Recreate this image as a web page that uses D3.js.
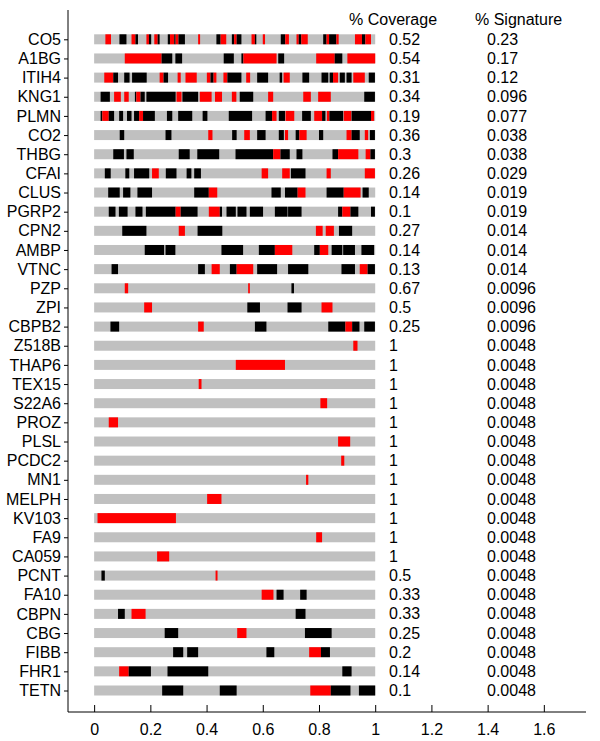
<!DOCTYPE html>
<html>
  <head>
    <meta charset="utf-8">
    <script src="https://d3js.org/d3.v7.min.js"></script>
    <style>
      body { margin: 0; background: #fff; }
      text { font-family: Arial, "Liberation Sans", sans-serif; font-size: 16px; fill: #000; }
    </style>
  </head>
  <body>
    <script>
      const width = 600;
      const height = 741;

      const proteins = ['CO5', 'A1BG', 'ITIH4', 'KNG1', 'PLMN', 'CO2', 'THBG', 'CFAI', 'CLUS', 'PGRP2',
        'CPN2', 'AMBP', 'VTNC', 'PZP', 'ZPI', 'CBPB2', 'Z518B', 'THAP6', 'TEX15', 'S22A6', 'PROZ',
        'PLSL', 'PCDC2', 'MN1', 'MELPH', 'KV103', 'FA9', 'CA059', 'PCNT', 'FA10', 'CBPN', 'CBG',
        'FIBB', 'FHR1', 'TETN'];

      const coverage = ['0.52', '0.54', '0.31', '0.34', '0.19', '0.36', '0.3', '0.26', '0.14', '0.1',
        '0.27', '0.14', '0.13', '0.67', '0.5', '0.25', '1', '1', '1', '1', '1', '1', '1', '1', '1', '1',
        '1', '1', '0.5', '0.33', '0.33', '0.25', '0.2', '0.14', '0.1'];

      const signature = ['0.23', '0.17', '0.12', '0.096', '0.077', '0.038', '0.038', '0.029', '0.019',
        '0.019', '0.014', '0.014', '0.014', '0.0096', '0.0096', '0.0096', '0.0048', '0.0048', '0.0048',
        '0.0048', '0.0048', '0.0048', '0.0048', '0.0048', '0.0048', '0.0048', '0.0048', '0.0048',
        '0.0048', '0.0048', '0.0048', '0.0048', '0.0048', '0.0048', '0.0048'];

      // peptide segments per protein: [start, end, kind]  k = black, r = red
      const segments = [
        [[0.04,0.06,'r'],[0.09,0.115,'k'],[0.133,0.147,'r'],[0.147,0.156,'k'],[0.186,0.195,'r'],[0.195,0.203,'k'],
         [0.214,0.226,'r'],[0.226,0.233,'k'],[0.262,0.27,'k'],[0.27,0.285,'r'],[0.285,0.29,'k'],[0.29,0.3,'r'],
         [0.3,0.323,'k'],[0.37,0.377,'r'],[0.435,0.45,'k'],[0.45,0.47,'r'],[0.49,0.498,'k'],[0.498,0.507,'r'],
         [0.507,0.524,'k'],[0.56,0.572,'r'],[0.572,0.577,'k'],[0.6,0.608,'r'],[0.664,0.68,'k'],[0.68,0.693,'r'],
         [0.72,0.728,'r'],[0.728,0.737,'k'],[0.737,0.76,'r'],[0.815,0.827,'k'],[0.827,0.836,'r'],[0.836,0.862,'k'],
         [0.862,0.87,'r'],[0.928,0.953,'r'],[0.953,0.965,'k'],[0.965,0.985,'r']],
        [[0.109,0.24,'r'],[0.24,0.278,'k'],[0.289,0.313,'k'],[0.461,0.497,'k'],[0.524,0.531,'k'],[0.531,0.649,'r'],
         [0.655,0.676,'k'],[0.79,0.856,'r'],[0.856,0.883,'k'],[0.901,1.0,'r']],
        [[0.036,0.068,'r'],[0.068,0.085,'k'],[0.107,0.126,'k'],[0.135,0.187,'k'],[0.233,0.247,'r'],[0.247,0.263,'k'],
         [0.297,0.308,'r'],[0.325,0.365,'r'],[0.401,0.414,'r'],[0.414,0.425,'k'],[0.425,0.435,'r'],[0.46,0.474,'r'],
         [0.474,0.524,'k'],[0.541,0.555,'r'],[0.58,0.619,'k'],[0.66,0.669,'k'],[0.674,0.696,'r'],[0.741,0.765,'k'],
         [0.809,0.833,'k'],[0.838,0.85,'k'],[0.85,0.868,'r'],[0.874,0.892,'k'],[0.898,0.916,'k'],[0.922,0.963,'r'],
         [0.977,0.999,'k']],
        [[0.023,0.056,'k'],[0.071,0.095,'r'],[0.107,0.123,'r'],[0.145,0.15,'k'],[0.15,0.165,'r'],[0.165,0.18,'k'],
         [0.186,0.29,'k'],[0.293,0.311,'r'],[0.314,0.37,'k'],[0.376,0.418,'r'],[0.43,0.455,'r'],[0.49,0.506,'r'],
         [0.518,0.566,'k'],[0.619,0.637,'r'],[0.744,0.771,'r'],[0.797,0.842,'r'],[0.961,0.999,'k']],
        [[0.023,0.029,'k'],[0.029,0.052,'r'],[0.052,0.071,'k'],[0.089,0.103,'k'],[0.117,0.133,'k'],[0.142,0.16,'k'],
         [0.16,0.174,'r'],[0.174,0.216,'k'],[0.259,0.278,'k'],[0.299,0.349,'k'],[0.386,0.403,'k'],[0.479,0.562,'k'],
         [0.61,0.633,'k'],[0.633,0.649,'r'],[0.657,0.679,'k'],[0.681,0.712,'r'],[0.74,0.771,'k'],[0.783,0.811,'r'],
         [0.811,0.823,'k'],[0.828,0.837,'r'],[0.837,0.886,'k'],[0.888,0.915,'r'],[0.916,0.985,'k'],[0.985,0.996,'r']],
        [[0.091,0.107,'k'],[0.254,0.275,'k'],[0.406,0.421,'r'],[0.491,0.507,'k'],[0.534,0.554,'r'],[0.58,0.61,'k'],
         [0.657,0.675,'k'],[0.679,0.69,'r'],[0.717,0.73,'k'],[0.73,0.756,'r'],[0.8,0.815,'k'],[0.898,0.916,'r'],
         [0.916,0.945,'k'],[0.963,0.975,'r'],[0.981,0.999,'k']],
        [[0.068,0.106,'k'],[0.115,0.141,'k'],[0.301,0.34,'k'],[0.367,0.445,'k'],[0.503,0.637,'k'],[0.637,0.663,'r'],
         [0.663,0.696,'k'],[0.72,0.741,'k'],[0.848,0.868,'k'],[0.868,0.94,'r'],[0.966,0.983,'r'],[0.983,0.999,'k']],
        [[0.038,0.059,'k'],[0.111,0.125,'k'],[0.142,0.196,'k'],[0.206,0.23,'r'],[0.255,0.293,'k'],[0.329,0.346,'k'],
         [0.356,0.38,'k'],[0.596,0.619,'r'],[0.669,0.696,'r'],[0.7,0.752,'k'],[0.827,0.842,'r'],[0.963,0.999,'r']],
        [[0.05,0.091,'k'],[0.103,0.129,'k'],[0.154,0.206,'k'],[0.356,0.408,'k'],[0.408,0.438,'r'],[0.631,0.664,'k'],
         [0.679,0.724,'k'],[0.724,0.752,'r'],[0.827,0.888,'k'],[0.888,0.948,'r'],[0.955,0.977,'k']],
        [[0.052,0.076,'k'],[0.088,0.119,'k'],[0.147,0.172,'k'],[0.184,0.29,'k'],[0.29,0.308,'r'],[0.308,0.368,'k'],
         [0.408,0.447,'r'],[0.447,0.455,'k'],[0.471,0.504,'k'],[0.51,0.542,'k'],[0.554,0.601,'k'],[0.643,0.688,'k'],
         [0.69,0.738,'k'],[0.868,0.883,'k'],[0.883,0.912,'r'],[0.912,0.94,'k'],[0.985,0.999,'k']],
        [[0.1,0.186,'k'],[0.301,0.323,'r'],[0.368,0.456,'k'],[0.789,0.813,'r'],[0.824,0.853,'r'],[0.871,0.918,'k']],
        [[0.18,0.249,'k'],[0.254,0.289,'k'],[0.453,0.53,'k'],[0.586,0.643,'k'],[0.643,0.705,'r'],[0.783,0.803,'k'],
         [0.803,0.833,'r'],[0.845,0.883,'k'],[0.886,0.928,'k'],[0.951,0.996,'k']],
        [[0.062,0.085,'k'],[0.37,0.394,'k'],[0.418,0.447,'r'],[0.483,0.507,'k'],[0.507,0.566,'r'],[0.58,0.651,'k'],
         [0.69,0.762,'k'],[0.88,0.928,'k'],[0.945,0.973,'r'],[0.973,0.999,'k']],
        [[0.109,0.121,'r'],[0.548,0.554,'r'],[0.702,0.711,'k']],
        [[0.178,0.206,'r'],[0.545,0.59,'k'],[0.688,0.738,'k'],[0.809,0.848,'r']],
        [[0.058,0.089,'k'],[0.37,0.39,'r'],[0.572,0.613,'k'],[0.833,0.894,'k'],[0.894,0.918,'r'],[0.918,0.944,'k'],
         [0.961,0.999,'k']],
        [[0.922,0.937,'r']],
        [[0.504,0.679,'r']],
        [[0.372,0.382,'r']],
        [[0.805,0.829,'r']],
        [[0.052,0.085,'r']],
        [[0.868,0.911,'r']],
        [[0.879,0.89,'r']],
        [[0.754,0.762,'r']],
        [[0.402,0.453,'r']],
        [[0.012,0.291,'r']],
        [[0.79,0.811,'r']],
        [[0.224,0.267,'r']],
        [[0.026,0.038,'k'],[0.432,0.439,'r']],
        [[0.596,0.638,'r'],[0.649,0.674,'k'],[0.733,0.756,'k']],
        [[0.085,0.109,'k'],[0.133,0.183,'r'],[0.717,0.752,'k']],
        [[0.251,0.299,'k'],[0.509,0.542,'r'],[0.75,0.845,'k']],
        [[0.281,0.317,'k'],[0.331,0.37,'k'],[0.613,0.641,'k'],[0.765,0.807,'r'],[0.807,0.839,'k']],
        [[0.089,0.123,'r'],[0.123,0.202,'k'],[0.261,0.406,'k'],[0.883,0.916,'k']],
        [[0.242,0.317,'k'],[0.447,0.507,'k'],[0.769,0.842,'r'],[0.842,0.912,'k'],[0.942,1.0,'k']]
      ];

      const xTicks = [0, 0.2, 0.4, 0.6, 0.8, 1, 1.2, 1.4, 1.6];
      const colors = {k: '#000000', r: '#ff0000'};

      const x = d3.scaleLinear().domain([-0.093, 1.75]).range([68, 586]);
      const y = d3.scalePoint().domain(proteins).range([39.3, 690.5]);
      const barH = 10;
      const axisTop = 10, axisBottom = 712;

      const svg = d3.select('body').append('svg')
        .attr('width', width)
        .attr('height', height);

      const rows = svg.selectAll('g.row').data(proteins)
        .enter().append('g')
        .attr('class', 'row')
        .attr('transform', d => `translate(0,${y(d)})`);

      rows.append('rect')
        .attr('x', x(0))
        .attr('y', -barH / 2)
        .attr('width', x(1) - x(0))
        .attr('height', barH)
        .attr('fill', '#c0c0c0');

      rows.selectAll('rect.seg').data((d, i) => segments[i])
        .enter().append('rect')
        .attr('class', 'seg')
        .attr('x', s => x(s[0]))
        .attr('y', -barH / 2)
        .attr('width', s => x(s[1]) - x(s[0]))
        .attr('height', barH)
        .attr('fill', s => colors[s[2]]);

      rows.append('text')
        .attr('x', 389)
        .attr('dy', '0.35em')
        .text((d, i) => coverage[i]);

      rows.append('text')
        .attr('x', 487)
        .attr('dy', '0.35em')
        .text((d, i) => signature[i]);

      svg.append('text').attr('x', 349).attr('y', 25).text('% Coverage');
      svg.append('text').attr('x', 475).attr('y', 25).text('% Signature');

      // y axis
      const yAxis = svg.append('g')
        .attr('transform', `translate(${x.range()[0]},0)`)
        .call(d3.axisLeft(y).tickSize(4).tickPadding(3));
      yAxis.select('.domain').attr('d', `M0,${axisTop}V${axisBottom}`);

      // x axis, ticks pointing inward
      const xAxis = svg.append('g')
        .attr('transform', `translate(0,${axisBottom})`)
        .call(d3.axisBottom(x).tickValues(xTicks).tickSize(-7).tickFormat(d3.format('~g')));
      xAxis.select('.domain').attr('d', `M${x.range()[0]},0H${x.range()[1]}`);
      xAxis.selectAll('.tick text').attr('y', 12).attr('dy', '0.71em');

      svg.selectAll('.domain, .tick line').attr('stroke', '#000');
      svg.selectAll('.tick text').style('font-size', '16px').attr('fill', '#000')
        .style('font-family', 'Arial, "Liberation Sans", sans-serif');
    </script>
  </body>
</html>
